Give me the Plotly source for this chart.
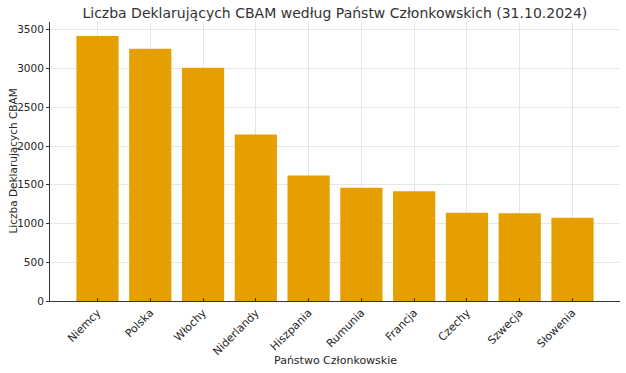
import plotly.graph_objects as go

countries = ["Niemcy", "Polska", "Włochy", "Niderlandy", "Hiszpania",
             "Rumunia", "Francja", "Czechy", "Szwecja", "Słowenia"]
declarants = [3420, 3255, 3010, 2150, 1620, 1460, 1415, 1140, 1133, 1074]

fig = go.Figure(go.Bar(x=countries, y=declarants, marker_color="#E69F00",
                       marker_line_width=0, width=0.8))

font = "DejaVu Sans"
fig.update_layout(
    width=626, height=373,
    margin=dict(l=50, r=6, t=22, b=72),
    paper_bgcolor="white", plot_bgcolor="white",
    font=dict(family=font, size=10, color="#262626"),
    title=dict(text="Liczba Deklarujących CBAM według Państw Członkowskich (31.10.2024)",
               x=0.535, xanchor="center", y=0.965, yanchor="middle",
               font=dict(size=14, color="#333")),
    bargap=0.2,
    showlegend=False,
    annotations=[
        dict(text="Państwo Członkowskie", xref="paper", yref="paper",
             x=0.5, y=0, yshift=-59, xanchor="center", yanchor="middle",
             showarrow=False, font=dict(size=11, color="#262626")),
        dict(text="Liczba Deklarujących CBAM", xref="paper", yref="paper",
             x=0, y=0.5, xshift=-38, xanchor="center", yanchor="middle",
             textangle=-90, showarrow=False, font=dict(size=10.5, color="#262626")),
    ],
)
fig.update_xaxes(
    tickangle=-45, showgrid=True, gridcolor="#e6e6e6", gridwidth=1,
    showline=True, linecolor="#333", linewidth=1,
    ticks="inside", ticklen=3, tickcolor="#333", tickfont=dict(size=11),
    range=[-0.9, 9.9], automargin=False,
)
fig.update_yaxes(
    range=[0, 3600], tickvals=[0, 500, 1000, 1500, 2000, 2500, 3000, 3500],
    showgrid=True, gridcolor="#e6e6e6", gridwidth=1,
    showline=True, linecolor="#333", linewidth=1,
    ticks="outside", ticklen=3, tickcolor="#333", zeroline=False,
    tickfont=dict(size=10.5), automargin=False,
)

fig.write_html("out.html", config={"displayModeBar": False},
               post_script="document.body.style.margin='0';")
